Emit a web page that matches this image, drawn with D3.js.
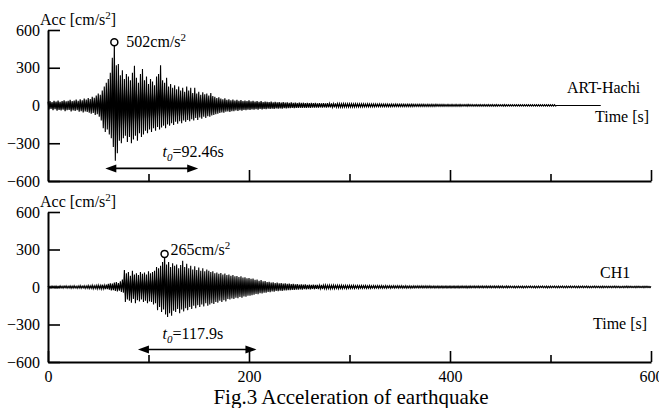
<!DOCTYPE html>
<html><head><meta charset="utf-8">
<script src="https://cdn.jsdelivr.net/npm/d3@7"></script>
<style>html,body{margin:0;padding:0;background:#fff;overflow:hidden}svg{display:block;font-family:"Liberation Serif","Times New Roman",serif}</style>
</head><body><svg id="c" width="659" height="408"></svg>
<script>
// ---- data (cm/s^2), sampled every dt seconds: upper / lower envelope of each record ----
const dt = 2;
const timeTicksMajor = [0, 200, 400, 600];
const timeTicksMinor = [100, 300, 500];
const accTicks = [-600, -300, 0, 300, 600];
const seriesNames = ["ART-Hachi", "CH1"];
const hachiMax = [
30,36,28,38,32,40,30,36,42,33,38,45,35,40,48,38,50,42,55,48,
60,52,70,62,80,95,85,120,150,180,210,260,380,502,320,330,240,280,210,250,
230,200,260,315,220,180,250,290,200,230,170,210,190,160,230,250,320,200,180,220,
150,170,140,160,130,150,120,140,110,150,120,140,100,140,95,110,85,105,90,95,
80,100,75,70,60,65,55,50,58,45,50,42,48,40,45,38,44,36,40,35,
42,34,38,32,36,30,35,28,32,30,27,31,26,29,25,28,24,27,23,26,
22,25,21,24,20,23,20,22,19,21,18,21,18,20,17,19,17,18,16,18,
16,17,15,17,15,16,14,16,14,15,14,15,13,15,13,14,13,14,12,14,
12,13,12,13,11,13,11,12,11,12,11,12,10,12,10,11,10,11,10,11,
10,11,10,10,9,10,9,10,9,10,9,10,9,10,9,9,8,9,8,9,
8,9,8,9,8,9,8,8,8,9,8,8,7,8,7,8,7,8,7,8,
7,8,7,8,7,7,7,8,7,7,6,7,6,7,6,7,6,7,6,7,
6,7,6,7,6,6,6,7,6,6,6,6,6,0,0,0,0,0,0,0,
0,0,0,0,0,0,0,0,0,0,0,0,0,0,0,0];
const hachiMin = [
-32,-28,-38,-30,-42,-35,-40,-33,-45,-38,-36,-48,-40,-44,-38,-50,-45,-55,-48,-52,
-58,-65,-60,-75,-70,-90,-120,-180,-210,-190,-230,-260,-330,-440,-380,-280,-300,-260,-240,-290,
-250,-300,-270,-240,-280,-220,-250,-230,-200,-220,-190,-210,-180,-200,-170,-190,-175,-160,-180,-150,
-160,-140,-155,-130,-145,-125,-140,-120,-130,-115,-125,-110,-120,-100,-115,-95,-105,-90,-100,-85,
-90,-80,-75,-70,-65,-60,-55,-58,-50,-48,-52,-45,-46,-40,-44,-38,-42,-36,-38,-34,
-36,-32,-34,-30,-33,-28,-31,-27,-29,-26,-28,-25,-27,-24,-26,-23,-25,-22,-24,-21,
-22,-20,-21,-19,-20,-18,-19,-18,-19,-17,-18,-16,-17,-16,-17,-15,-16,-15,-16,-14,
-15,-14,-15,-13,-14,-13,-14,-12,-13,-12,-13,-12,-12,-11,-12,-11,-12,-11,-11,-10,
-11,-10,-11,-10,-10,-9,-10,-9,-10,-9,-9,-9,-9,-8,-9,-8,-9,-8,-8,-8,
-8,-8,-8,-7,-8,-7,-8,-7,-7,-7,-7,-7,-7,-6,-7,-6,-7,-6,-6,-6,
-6,-6,-6,-6,-6,-6,-6,-5,-6,-5,-6,-5,-5,-5,-5,-5,-5,-5,-5,-5,
-5,-5,-5,-5,-5,-5,-5,-5,-5,-5,-5,-4,-5,-4,-5,-4,-5,-4,-5,-4,
-5,-4,-5,-4,-5,-4,-4,-4,-5,-4,-4,-4,-4,0,0,0,0,0,0,0,
0,0,0,0,0,0,0,0,0,0,0,0,0,0,0,0];
const ch1Max = [
8,6,9,7,8,6,9,7,8,10,7,9,8,10,7,9,11,8,10,9,
12,10,14,11,13,16,12,18,15,20,25,30,28,35,40,32,45,60,135,110,
120,90,130,100,110,95,120,105,115,100,125,110,120,130,160,150,170,200,265,180,
200,160,190,170,180,150,175,210,160,185,150,170,140,165,135,155,130,150,125,140,
130,120,125,110,115,105,112,100,108,95,100,90,95,85,88,80,85,75,78,70,
72,65,68,58,60,50,55,45,48,40,42,36,38,32,35,30,32,28,30,26,
28,24,26,22,24,20,22,19,21,18,20,17,19,16,18,15,17,15,16,14,
16,14,15,13,15,13,14,12,14,12,13,12,13,11,13,11,12,11,12,10,
12,10,11,10,11,10,11,9,11,9,10,9,10,9,10,9,10,8,10,8,
9,8,9,8,9,8,9,8,9,8,9,7,8,7,8,7,8,7,8,7,
8,7,8,7,8,7,8,7,8,7,8,7,8,7,8,7,8,7,8,7,
8,7,8,7,8,7,8,6,8,7,8,6,7,6,7,6,7,6,7,6,
7,6,7,6,7,6,7,6,7,6,7,6,7,6,7,6,7,6,7,6,
7,6,7,6,7,6,7,6,7,6,6,6,7,6,6,6,7,6,6,6,
6,6,7,6,6,5,6,6,7,6,6,5,6,6,6,5,6,6,6,5,
5];
const ch1Min = [
-7,-9,-6,-8,-9,-7,-8,-10,-7,-9,-8,-10,-9,-8,-11,-9,-10,-8,-11,-10,
-12,-11,-14,-12,-15,-13,-16,-14,-18,-17,-22,-28,-25,-32,-35,-30,-40,-45,-120,-100,
-110,-125,-95,-130,-105,-115,-100,-120,-110,-130,-115,-120,-140,-130,-185,-160,-200,-180,-220,-240,
-210,-230,-190,-200,-175,-210,-180,-195,-170,-185,-160,-175,-150,-170,-145,-160,-140,-155,-130,-150,
-140,-130,-135,-120,-125,-110,-120,-105,-115,-95,-100,-92,-95,-85,-90,-80,-85,-75,-78,-70,
-70,-65,-62,-55,-58,-50,-52,-45,-46,-40,-42,-36,-38,-32,-34,-30,-31,-27,-28,-25,
-26,-23,-24,-21,-22,-19,-21,-18,-20,-17,-19,-16,-18,-15,-17,-15,-16,-14,-15,-13,
-15,-13,-14,-12,-14,-12,-13,-11,-13,-11,-12,-11,-12,-10,-12,-10,-11,-10,-11,-10,
-11,-9,-10,-9,-10,-9,-10,-9,-10,-8,-10,-8,-9,-8,-9,-8,-9,-8,-9,-8,
-9,-8,-8,-7,-8,-7,-8,-7,-8,-7,-8,-7,-8,-7,-8,-7,-8,-7,-8,-7,
-8,-7,-8,-7,-8,-7,-7,-7,-8,-7,-7,-6,-7,-6,-7,-6,-7,-6,-7,-6,
-7,-6,-7,-6,-7,-6,-7,-6,-7,-6,-6,-6,-7,-6,-6,-6,-7,-6,-6,-5,
-6,-6,-7,-6,-6,-5,-6,-6,-7,-6,-6,-5,-6,-6,-6,-5,-6,-6,-6,-5,
-6,-5,-6,-6,-6,-5,-6,-5,-6,-6,-6,-5,-6,-5,-6,-6,-6,-5,-6,-5,
-6,-5,-6,-5,-6,-5,-6,-5,-6,-5,-5,-5,-6,-5,-5,-5,-6,-5,-5,-5,
-5];
const peakTime = [66, 116];
const peakValue = [502, 265];
const durStart = [57, 89.5];
const durValue = [92.46, 117.9];
const durText = ["=92.46s", "=117.9s"];
const title = "Fig.3 Acceleration of earthquake";

// ---- drawing ----
const svg = d3.select("#c");
const FF = '"Liberation Serif","Times New Roman",serif';
const x = d3.scaleLinear().domain([0, 600]).range([48, 651]);
const panels = [
  {name: seriesNames[0], max: hachiMax, min: hachiMin, y: d3.scaleLinear().domain([-600, 600]).range([181, 30]), lab: [567, 93], time: [595, 122], acc: 25},
  {name: seriesNames[1], max: ch1Max, min: ch1Min, y: d3.scaleLinear().domain([-600, 600]).range([362, 212]), lab: [600, 278], time: [593, 329], acc: 207}
];

panels.forEach((p, k) => {
  const g = svg.append("g");
  const y = p.y;
  // signal as max/min zigzag, with the band between them filled
  const pts = [];
  p.max.forEach((v, i) => {
    pts.push([i * dt, v]);
    if (i < p.max.length - 1) pts.push([i * dt + dt / 2, p.min[i]]);
  });
  g.append("path")
    .attr("d", d3.area().x(d => x(d[0])).y0(d => y(Math.min(0, d[1]))).y1(d => y(Math.max(0, d[1])))(pts))
    .attr("fill", "#000").attr("fill-opacity", k === 0 ? 1 : 0.75);
  g.append("path")
    .attr("d", d3.line().x(d => x(d[0])).y(d => y(d[1]))(pts))
    .attr("fill", "none").attr("stroke", "#000").attr("stroke-width", 1.1).attr("stroke-linejoin", "miter");

  // y axis
  const ya = g.append("g").attr("transform", "translate(48,0)")
    .call(d3.axisLeft(y).tickValues(accTicks).tickSizeInner(-12).tickSizeOuter(0).tickPadding(8).tickFormat(d3.format("d")));
  ya.attr("font-family", FF).attr("font-size", 16);
  ya.select(".domain").attr("stroke-width", 2);
  ya.selectAll(".tick line").attr("stroke-width", 1.6);
  ya.selectAll(".tick text").attr("fill", "#000");

  // x axis
  const xMaj = g.append("g").attr("transform", `translate(0,${y(-600)})`)
    .call(d3.axisBottom(x).tickValues(timeTicksMajor).tickSizeInner(-11).tickSizeOuter(0).tickPadding(9)
      .tickFormat(k === 1 ? d3.format("d") : () => ""));
  xMaj.attr("font-family", FF).attr("font-size", 16);
  xMaj.select(".domain").attr("stroke-width", 2);
  xMaj.selectAll(".tick line").attr("stroke-width", 1.6);
  xMaj.selectAll(".tick text").attr("fill", "#000");
  const xMin = g.append("g").attr("transform", `translate(0,${y(-600)})`)
    .call(d3.axisBottom(x).tickValues(timeTicksMinor).tickSizeInner(-7).tickSizeOuter(0).tickFormat(() => ""));
  xMin.select(".domain").remove();
  xMin.selectAll(".tick line").attr("stroke-width", 1.6);

  // axis title
  const at = g.append("text").attr("x", 40).attr("y", p.acc).attr("font-size", 16).attr("font-family", FF);
  at.append("tspan").text("Acc [cm/s");
  at.append("tspan").attr("font-size", 11).attr("dy", -6).text("2");
  at.append("tspan").attr("dy", 6).text("]");

  // series label and time label
  g.append("text").attr("x", p.lab[0]).attr("y", p.lab[1]).attr("font-size", 16).attr("font-family", FF).text(p.name);
  g.append("text").attr("x", p.time[0]).attr("y", p.time[1]).attr("font-size", 16).attr("font-family", FF).text("Time [s]");

  // peak marker
  const px = x(peakTime[k]), py = y(peakValue[k]);
  g.append("circle").attr("cx", px).attr("cy", py).attr("r", 3.5)
    .attr("fill", "#fff").attr("stroke", "#000").attr("stroke-width", 1.5);
  const pt = g.append("text").attr("x", k === 0 ? px + 12 : px + 6).attr("y", py + (k === 0 ? 5 : 1))
    .attr("font-size", 16).attr("font-family", FF);
  pt.append("tspan").text(peakValue[k] + "cm/s");
  pt.append("tspan").attr("font-size", 11).attr("dy", -6).text("2");

  // duration arrow
  const x1 = x(durStart[k]), x2 = x(durStart[k] + durValue[k]), ay = y(-500);
  g.append("line").attr("x1", x1 + 6).attr("x2", x2 - 6).attr("y1", ay).attr("y2", ay)
    .attr("stroke", "#000").attr("stroke-width", 1.6);
  g.append("path").attr("d", `M${x1},${ay}L${x1 + 11},${ay - 4}L${x1 + 11},${ay + 4}Z`).attr("fill", "#000");
  g.append("path").attr("d", `M${x2},${ay}L${x2 - 11},${ay - 4}L${x2 - 11},${ay + 4}Z`).attr("fill", "#000");
  const dtx = g.append("text").attr("x", x(114)).attr("y", ay - 11).attr("font-size", 16).attr("font-family", FF);
  dtx.append("tspan").attr("font-style", "italic").text("t");
  dtx.append("tspan").attr("font-style", "italic").attr("font-size", 11).attr("dy", 4).text("0");
  dtx.append("tspan").attr("dy", -4).text(durText[k]);
});

svg.append("text").attr("x", 351).attr("y", 404).attr("text-anchor", "middle")
  .attr("font-size", 21).attr("font-family", FF).text(title);
</script></body></html>
